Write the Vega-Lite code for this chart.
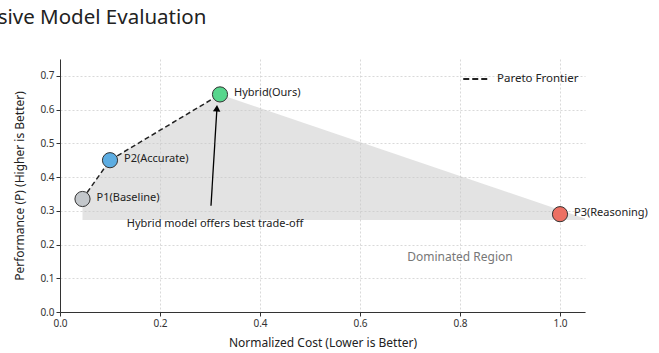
{
  "$schema": "https://vega.github.io/schema/vega-lite/v6.json",
  "width": 525,
  "height": 253,
  "autosize": "none",
  "padding": {"left": 60, "top": 59, "right": 74, "bottom": 41},
  "background": "white",
  "config": {
    "view": {"stroke": null},
    "font": "Noto Sans",
    "axis": {
      "labelFont": "Noto Sans", "titleFont": "Noto Sans",
      "labelFontSize": 10, "titleFontSize": 12, "titleFontWeight": "normal",
      "labelColor": "#333333", "titleColor": "#222222",
      "domainColor": "#333333", "tickColor": "#333333", "tickSize": 4,
      "gridColor": "#cfcfcf", "gridDash": [2, 2], "gridWidth": 0.8,
      "labelOverlap": false, "labelFlush": false
    }
  },
  "title": {
    "text": "Comprehensive Model Evaluation",
    "anchor": "start", "frame": "group", "dx": -176, "offset": 31,
    "fontSize": 20.5, "fontWeight": "normal", "color": "#222222", "font": "Noto Sans"
  },
  "datasets": {
    "region": [
      {"cost": 0.045, "perf": 0.335, "perf2": 0.273},
      {"cost": 0.1, "perf": 0.45, "perf2": 0.273},
      {"cost": 0.32, "perf": 0.645, "perf2": 0.273},
      {"cost": 1.05, "perf": 0.277, "perf2": 0.273}
    ],
    "frontier": [
      {"cost": 0.045, "perf": 0.335, "series": "Pareto Frontier"},
      {"cost": 0.1, "perf": 0.45, "series": "Pareto Frontier"},
      {"cost": 0.32, "perf": 0.645, "series": "Pareto Frontier"}
    ],
    "models": [
      {"model": "P1(Baseline)", "cost": 0.045, "perf": 0.335},
      {"model": "P2(Accurate)", "cost": 0.1, "perf": 0.45},
      {"model": "Hybrid(Ours)", "cost": 0.32, "perf": 0.645},
      {"model": "P3(Reasoning)", "cost": 1.0, "perf": 0.29}
    ],
    "arrow": [
      {"cost": 0.302, "perf": 0.315, "cost2": 0.3137, "perf2": 0.6}
    ],
    "arrowhead": [
      {"cost": 0.3137, "perf": 0.604}
    ],
    "notes": [
      {"label": "Hybrid model offers best trade-off", "cost": 0.31, "perf": 0.262, "kind": "annot"},
      {"label": "Dominated Region", "cost": 0.8, "perf": 0.163, "kind": "region"}
    ]
  },
  "encoding": {
    "x": {"field": "cost", "type": "quantitative",
          "scale": {"domain": [0, 1.05], "nice": false, "zero": false},
          "axis": {"values": [0, 0.2, 0.4, 0.6, 0.8, 1.0], "tickCount": 6, "format": ".1f", "title": "Normalized Cost (Lower is Better)", "titlePadding": 9}},
    "y": {"field": "perf", "type": "quantitative",
          "scale": {"domain": [0, 0.75], "nice": false, "zero": false},
          "axis": {"values": [0, 0.1, 0.2, 0.3, 0.4, 0.5, 0.6, 0.7], "tickCount": 8, "format": ".1f", "title": "Performance (P) (Higher is Better)", "titlePadding": 13}}
  },
  "layer": [
    {
      "data": {"name": "region"},
      "mark": {"type": "area", "color": "#c8c8c8", "opacity": 0.5},
      "encoding": {
        "y2": {"field": "perf2"}
      }
    },
    {
      "data": {"name": "frontier"},
      "mark": {"type": "line", "strokeDash": [5, 3], "strokeWidth": 1.5},
      "encoding": {
        "color": {"field": "series", "type": "nominal",
                  "scale": {"range": ["#222222"]},
                  "legend": {"title": null, "orient": "none", "legendX": 402, "legendY": 6,
                             "symbolType": "stroke", "symbolDash": [6, 3], "symbolStrokeWidth": 2,
                             "symbolSize": 650, "labelFontSize": 11.5, "labelColor": "#222222", "labelFont": "Noto Sans", "labelOffset": 7}}
      }
    },
    {
      "data": {"name": "arrow"},
      "mark": {"type": "rule", "color": "black", "strokeWidth": 1.3},
      "encoding": {
        "x2": {"field": "cost2"},
        "y2": {"field": "perf2"}
      }
    },
    {
      "data": {"name": "arrowhead"},
      "mark": {"type": "point", "shape": "triangle-up", "filled": true, "color": "black", "size": 55, "angle": 3.4, "opacity": 1},
      "encoding": {}
    },
    {
      "data": {"name": "models"},
      "mark": {"type": "circle", "size": 230, "stroke": "#333333", "strokeWidth": 1, "opacity": 1},
      "encoding": {
        "fill": {"field": "model", "type": "nominal",
                 "scale": {"domain": ["P1(Baseline)", "P2(Accurate)", "Hybrid(Ours)", "P3(Reasoning)"],
                           "range": ["#c3c7cb", "#5dade2", "#58d68d", "#ec7063"]},
                 "legend": null}
      }
    },
    {
      "data": {"name": "models"},
      "mark": {"type": "text", "align": "left", "dx": 14, "dy": -1, "fontSize": 11, "color": "#222222", "font": "Noto Sans"},
      "encoding": {
        "text": {"field": "model"}
      }
    },
    {
      "data": {"name": "notes"},
      "transform": [{"filter": "datum.kind == 'annot'"}],
      "mark": {"type": "text", "align": "center", "fontSize": 11, "color": "#222222", "font": "Noto Sans"},
      "encoding": {
        "text": {"field": "label"}
      }
    },
    {
      "data": {"name": "notes"},
      "transform": [{"filter": "datum.kind == 'region'"}],
      "mark": {"type": "text", "align": "center", "fontSize": 12, "color": "#777777", "font": "Noto Sans"},
      "encoding": {
        "text": {"field": "label"}
      }
    }
  ]
}
